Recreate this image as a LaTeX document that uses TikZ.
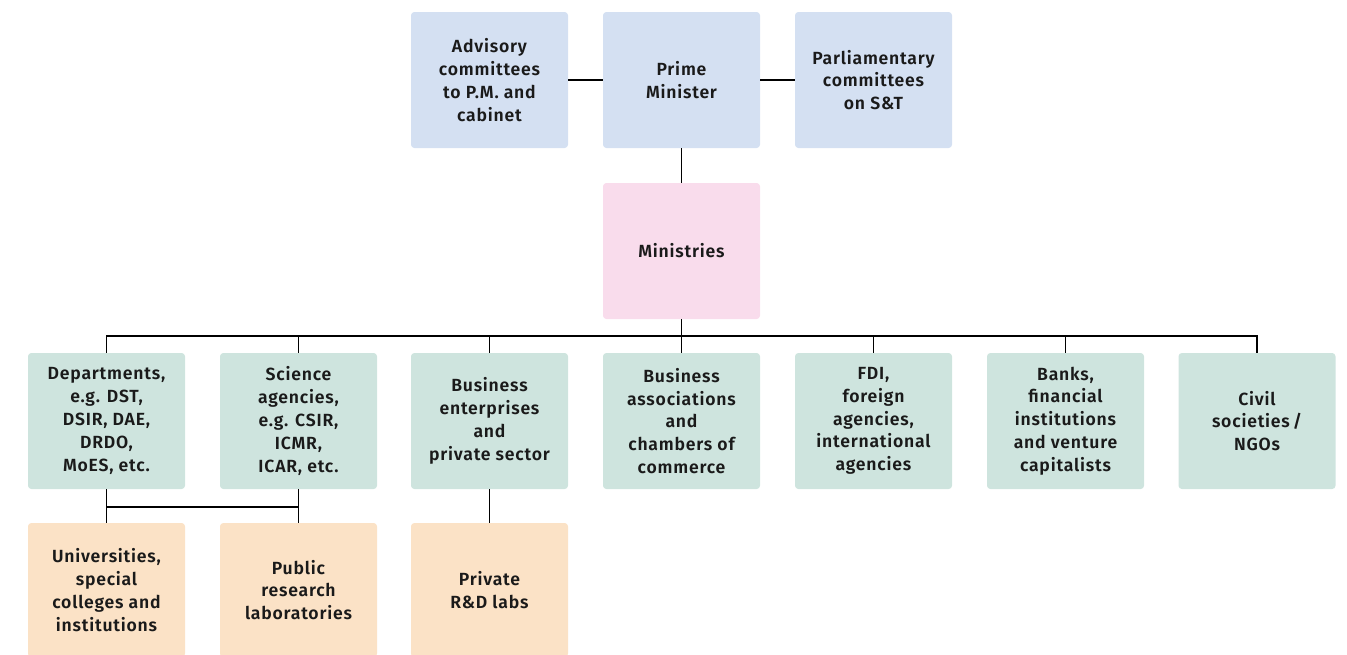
\documentclass[tikz,border=0pt]{standalone}
\usepackage{fontspec}
\setmainfont{Fira Sans}[UprightFont={* SemiBold},LetterSpace=4.5]
\definecolor{cblue}{RGB}{212,224,242}
\definecolor{cpink}{RGB}{249,220,236}
\definecolor{cgreen}{RGB}{206,228,222}
\definecolor{corange}{RGB}{251,226,198}
\definecolor{ctext}{RGB}{26,26,26}
\begin{document}
\begin{tikzpicture}[x=0.75pt,y=-0.75pt,
  box/.style={rectangle,rounded corners=2.5pt,minimum width=117.75pt,minimum height=102pt,
    inner sep=2pt,align=center,text=ctext,
    font=\fontsize{13.2pt}{17.1pt}\selectfont},
  topbox/.style={box,fill=cblue},
  minbox/.style={box,fill=cpink},
  midbox/.style={box,fill=cgreen},
  lowbox/.style={box,fill=corange,minimum height=100.5pt},
  conn/.style={draw=black,line width=0.9pt}]
\useasboundingbox (0,0) rectangle (1347,654);
\clip (0,0) rectangle (1347,654);
% top row
\node[topbox] (adv) at (489.5,80) {Advisory\\committees\\to P.M. and\\cabinet};
\node[topbox] (pm) at (681.5,80) {Prime\\Minister};
\node[topbox] (parl) at (873.5,80) {Parliamentary\\committees\\on S\&T};
\node[minbox] (min) at (681.5,251) {Ministries};
% middle row
\node[midbox] (dep) at (106.5,421) {Departments,\\e.g. DST,\\DSIR, DAE,\\DRDO,\\MoES, etc.};
\node[midbox] (sci) at (298.5,421) {Science\\agencies,\\e.g. CSIR,\\ICMR,\\ICAR, etc.};
\node[midbox] (bus) at (489.5,421) {Business\\enterprises\\and\\private sector};
\node[midbox] (assoc) at (681.5,421) {Business\\associations\\and\\chambers of\\commerce};
\node[midbox] (fdi) at (873.5,421) {FDI,\\foreign\\agencies,\\international\\agencies};
\node[midbox] (bank) at (1065.5,421) {Banks,\\financial\\institutions\\and venture\\capitalists};
\node[midbox] (civ) at (1257,421) {Civil\\societies\,/\\NGOs};
% bottom row
\node[lowbox] (uni) at (106.5,590) {Universities,\\special\\colleges and\\institutions};
\node[lowbox] (pub) at (298.5,590) {Public\\research\\laboratories};
\node[lowbox] (priv) at (489.5,590) {Private\\R\&D labs};
% connectors
\coordinate (busline) at (681.5,336);
\coordinate (lowline) at (106.5,507);
\draw[conn] (adv.east) -- (pm.west);
\draw[conn] (pm.east) -- (parl.west);
\draw[conn] (pm.south) -- (min.north);
\draw[conn] (min.south) -- (min.south |- busline);
\draw[conn] (dep.north) -- (dep.north |- busline) -- (civ.north |- busline) -- (civ.north);
\foreach \n in {sci,bus,assoc,fdi,bank}{
  \draw[conn] (\n.north) -- (\n.north |- busline);
}
\draw[conn] (dep.south) -- (uni.north);
\draw[conn] (sci.south) -- (pub.north);
\draw[conn] (dep.south |- lowline) -- (sci.south |- lowline);
\draw[conn] (bus.south) -- (priv.north);
\end{tikzpicture}
\end{document}
